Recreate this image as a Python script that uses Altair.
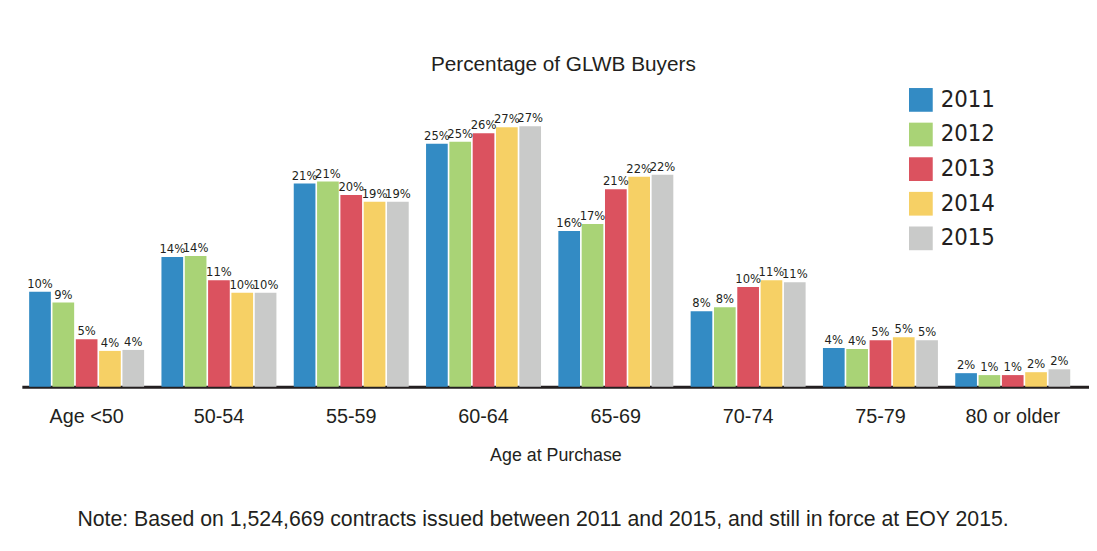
import altair as alt
import pandas as pd

groups = ["Age <50", "50-54", "55-59", "60-64", "65-69", "70-74", "75-79", "80 or older"]
years = ["2011", "2012", "2013", "2014", "2015"]
colors = ["#338BC4", "#A9D376", "#DB525F", "#F6D065", "#C9CAC9"]

# bar heights (%), one list per year
v2011 = [9.8, 13.4, 21.0, 25.1, 16.1, 7.8, 4.0, 1.4]
v2012 = [8.7, 13.5, 21.2, 25.3, 16.8, 8.2, 3.9, 1.2]
v2013 = [4.9, 11.0, 19.8, 26.2, 20.4, 10.3, 4.8, 1.2]
v2014 = [3.7, 9.7, 19.1, 26.8, 21.7, 11.0, 5.1, 1.5]
v2015 = [3.8, 9.7, 19.1, 26.9, 21.9, 10.8, 4.8, 1.8]

# printed labels
l2011 = ["10%", "14%", "21%", "25%", "16%", "8%", "4%", "2%"]
l2012 = ["9%", "14%", "21%", "25%", "17%", "8%", "4%", "1%"]
l2013 = ["5%", "11%", "20%", "26%", "21%", "10%", "5%", "1%"]
l2014 = ["4%", "10%", "19%", "27%", "22%", "11%", "5%", "2%"]
l2015 = ["4%", "10%", "19%", "27%", "22%", "11%", "5%", "2%"]

title_text = "Percentage of GLWB Buyers"
x_title = "Age at Purchase"
note_text = "Note: Based on 1,524,669 contracts issued between 2011 and 2015, and still in force at EOY 2015."

rows = []
for yr, vals, labs in zip(years, [v2011, v2012, v2013, v2014, v2015],
                          [l2011, l2012, l2013, l2014, l2015]):
    for g, v, l in zip(groups, vals, labs):
        rows.append({"group": g, "year": yr, "value": v, "label": l})
df = pd.DataFrame(rows)

FONT = "Liberation Sans, Arial, sans-serif"
NARROW = "Liberation Sans Narrow, Arial Narrow, DejaVu Sans Condensed, sans-serif"
TXT = "#231F20"

W = 1079
H = 274

x_enc = alt.X("group:N", sort=groups,
              scale=alt.Scale(paddingInner=0.131, paddingOuter=0.0986, align=0.28),
              axis=alt.Axis(title=x_title, labelAngle=0, ticks=False,
                            domainColor=TXT, domainWidth=3,
                            labelFont=FONT, labelFontSize=20, labelColor=TXT,
                            labelPadding=20,
                            titleFont=FONT, titleFontSize=18, titleColor=TXT,
                            titleFontWeight="normal", titlePadding=21))
xo_enc = alt.XOffset("year:N", sort=years,
                     scale=alt.Scale(paddingInner=0.07, paddingOuter=0))
y_enc = alt.Y("value:Q", scale=alt.Scale(domain=[0, 28], nice=False), axis=None)

base = alt.Chart(df)

bars = base.mark_bar().encode(
    x=x_enc, xOffset=xo_enc, y=y_enc,
    color=alt.Color("year:N", sort=years,
                    scale=alt.Scale(domain=years, range=colors),
                    legend=alt.Legend(title=None, orient="none",
                                      legendX=897, legendY=-28,
                                      symbolType="square", symbolSize=576,
                                      symbolStrokeWidth=0, symbolOpacity=1,
                                      labelFont=NARROW, labelFontSize=24,
                                      labelColor=TXT, labelOffset=8,
                                      rowPadding=11, padding=0))
)

labels = base.mark_text(baseline="bottom", dy=-1, font=NARROW, fontSize=13,
                        color=TXT).encode(
    x=x_enc, xOffset=xo_enc, y=y_enc, text="label:N"
)

note_df = pd.DataFrame({"t": [note_text]})
note = alt.Chart(note_df).mark_text(font=FONT, fontSize=21.5, color=TXT,
                                    align="center", baseline="middle").encode(
    x=alt.value(527), y=alt.value(H + 135), text="t:N"
)

chart = alt.layer(bars, labels, note).properties(
    width=W, height=H,
    background="white",
    title=alt.TitleParams(title_text, font=FONT, fontSize=21, fontWeight="normal",
                          color=TXT, anchor="middle", dx=8, offset=13),
    padding={"left": 14, "top": 44, "right": 0, "bottom": 0},
).configure_view(stroke=None, strokeWidth=0)

chart.save("out.html", embed_options={"renderer": "svg", "actions": False})
